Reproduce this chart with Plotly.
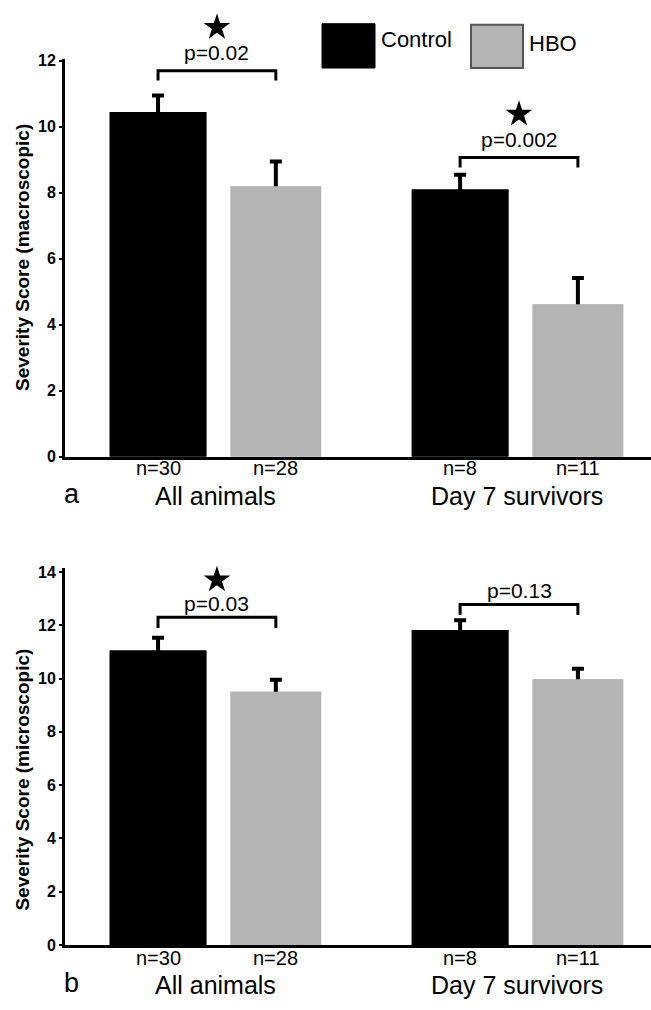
import plotly.graph_objects as go

# ---------------- data ----------------
groups = ["All animals", "Day 7 survivors"]
series_names = ["Control", "HBO"]

macro_control = [10.45, 8.10]
macro_control_err = [0.50, 0.45]
macro_hbo = [8.20, 4.62]
macro_hbo_err = [0.75, 0.80]

micro_control = [11.05, 11.82]
micro_control_err = [0.48, 0.37]
micro_hbo = [9.50, 9.97]
micro_hbo_err = [0.45, 0.40]

n_control = [30, 8]
n_hbo = [28, 11]

macro_p = ["p=0.02", "p=0.002"]
macro_sig = [True, True]
macro_bracket = [11.70, 9.07]

micro_p = ["p=0.03", "p=0.13"]
micro_sig = [True, False]
micro_bracket = [12.30, 12.78]

macro_ticks = [0, 2, 4, 6, 8, 10, 12]
micro_ticks = [0, 2, 4, 6, 8, 10, 12, 14]

panel_letters = ["a", "b"]
ytitles = ["Severity Score (macroscopic)", "Severity Score (microscopic)"]

# ---------------- style ----------------
W, H = 651, 1010
ML = 65
PW = W - ML
FONT = "Liberation Sans, Arial, sans-serif"
BLACK = "#000000"
GRAY = "#b4b4b4"
CTRL_OFF, CTRL_W = -0.35, 0.32
HBO_OFF, HBO_W = 0.05, 0.30
X_RANGE = [-0.498, 1.442]
TOP_RANGE = [0, 12.05]
BOT_RANGE = [0, 14.15]
TOP_PX = (457, 53)          # pixel rows of the plot bottom / top
BOT_PX = (953, 570)
TOP_STAR_PX = (457, 0)      # taller invisible area for the significance stars
BOT_STAR_PX = (953, 520)


def py(p):
    return 1 - p / H


def px(p):
    return (p - ML) / PW


ppu_top = (TOP_PX[0] - TOP_PX[1]) / (TOP_RANGE[1] - TOP_RANGE[0])
ppu_bot = (BOT_PX[0] - BOT_PX[1]) / (BOT_RANGE[1] - BOT_RANGE[0])

fig = go.Figure()

panels = [
    dict(xa="x", ya="y", xs="x3", ys="y3", ctrl=macro_control, ce=macro_control_err,
         hbo=macro_hbo, he=macro_hbo_err, p=macro_p, sig=macro_sig,
         br=macro_bracket, drop=0.30, pshift=18, sshift=44, ppu=ppu_top),
    dict(xa="x2", ya="y2", xs="x4", ys="y4", ctrl=micro_control, ce=micro_control_err,
         hbo=micro_hbo, he=micro_hbo_err, p=micro_p, sig=micro_sig,
         br=micro_bracket, drop=0.40, pshift=14, sshift=38, ppu=ppu_bot),
]

for P in panels:
    err_style = dict(type="data", symmetric=True, color=BLACK, thickness=4, width=6)
    # bars with error bars
    fig.add_trace(go.Bar(x=groups, y=P["ctrl"], name=series_names[0],
                         offset=CTRL_OFF, width=CTRL_W, marker=dict(color=BLACK, line=dict(width=0)),
                         error_y=dict(array=P["ce"], **err_style),
                         xaxis=P["xa"], yaxis=P["ya"], showlegend=False))
    fig.add_trace(go.Bar(x=groups, y=P["hbo"], name=series_names[1],
                         offset=HBO_OFF, width=HBO_W, marker=dict(color=GRAY, line=dict(width=0)),
                         error_y=dict(array=P["he"], **err_style),
                         xaxis=P["xa"], yaxis=P["ya"], showlegend=False))
    # same bars drawn again on top, hiding the lower half of each error bar
    fig.add_trace(go.Bar(x=groups, y=P["ctrl"], name=series_names[0],
                         offset=CTRL_OFF, width=CTRL_W, marker=dict(color=BLACK, line=dict(width=0)),
                         xaxis=P["xa"], yaxis=P["ya"], showlegend=False, hoverinfo="skip"))
    fig.add_trace(go.Bar(x=groups, y=P["hbo"], name=series_names[1],
                         offset=HBO_OFF, width=HBO_W, marker=dict(color=GRAY, line=dict(width=0)),
                         xaxis=P["xa"], yaxis=P["ya"], showlegend=False, hoverinfo="skip"))

shapes = []
annotations = []

for P in panels:
    star_x, star_y = [], []
    for i in range(len(groups)):
        x0 = i + CTRL_OFF + CTRL_W / 2
        x1 = i + HBO_OFF + HBO_W / 2
        yb = P["br"][i]
        shapes.append(dict(type="path", xref=P["xa"], yref=P["ya"],
                           path=f"M {x0},{yb - P['drop']} L {x0},{yb} L {x1},{yb} L {x1},{yb - P['drop']}",
                           line=dict(color=BLACK, width=3)))
        xm = (x0 + x1) / 2
        annotations.append(dict(x=xm, y=yb, xref=P["xa"], yref=P["ya"], text=P["p"][i],
                                showarrow=False, yshift=P["pshift"], yanchor="middle",
                                font=dict(family=FONT, size=21, color=BLACK)))
        if P["sig"][i]:
            star_x.append(xm)
            star_y.append(yb + P["sshift"] / P["ppu"])
    if star_x:
        fig.add_trace(go.Scatter(x=star_x, y=star_y, mode="markers", cliponaxis=False,
                                 marker=dict(symbol="star", size=20, color=BLACK,
                                             line=dict(width=0)),
                                 xaxis=P["xs"], yaxis=P["ys"], showlegend=False,
                                 hoverinfo="skip"))

# x-axis annotation rows (n values, group names, panel letters)
rows = [(468, 497, "x"), (966, 994, "x2")]
for k, (yn, yg, xa) in enumerate(rows):
    for i, g in enumerate(groups):
        annotations.append(dict(x=i + CTRL_OFF + CTRL_W / 2, y=py(yn), xref=xa, yref="paper",
                                text=f"n={n_control[i]}", showarrow=False, yanchor="middle",
                                font=dict(family=FONT, size=20, color=BLACK)))
        annotations.append(dict(x=i + HBO_OFF + HBO_W / 2, y=py(yn), xref=xa, yref="paper",
                                text=f"n={n_hbo[i]}", showarrow=False, yanchor="middle",
                                font=dict(family=FONT, size=20, color=BLACK)))
        annotations.append(dict(x=i, y=py(yg), xref=xa, yref="paper", text=g,
                                showarrow=False, yanchor="middle",
                                font=dict(family=FONT, size=25, color=BLACK)))
    annotations.append(dict(x=px(62), y=py(yg - 2), xref="paper", yref="paper",
                            text=panel_letters[k], showarrow=False, yanchor="middle",
                            font=dict(family=FONT, size=27, color=BLACK)))

# y-axis titles
for k, yc in enumerate([255, 785]):
    annotations.append(dict(x=px(23), y=py(yc), xref="paper", yref="paper",
                            text=ytitles[k], textangle=-90, showarrow=False,
                            xanchor="center", yanchor="middle",
                            font=dict(family=FONT, size=19, color=BLACK, weight="bold")))

# legend
shapes.append(dict(type="rect", xref="paper", yref="paper", x0=px(322), x1=px(375),
                   y0=py(62), y1=py(17), fillcolor=BLACK, line=dict(color=BLACK, width=1)))
shapes.append(dict(type="rect", xref="paper", yref="paper", x0=px(471), x1=px(523),
                   y0=py(62), y1=py(18), fillcolor=GRAY, line=dict(color="#555555", width=2)))
annotations.append(dict(x=px(379), y=py(33), xref="paper", yref="paper", text=series_names[0],
                        showarrow=False, xanchor="left", yanchor="middle",
                        font=dict(family=FONT, size=22, color=BLACK)))
annotations.append(dict(x=px(527), y=py(37), xref="paper", yref="paper", text=series_names[1],
                        showarrow=False, xanchor="left", yanchor="middle",
                        font=dict(family=FONT, size=22, color=BLACK)))

xaxis_common = dict(range=X_RANGE, showline=True, linewidth=3, linecolor=BLACK,
                    ticks="", showticklabels=False, showgrid=False, zeroline=False,
                    fixedrange=True)
hidden_x = dict(range=X_RANGE, type="linear", visible=False, showgrid=False,
                zeroline=False, fixedrange=True, domain=[0, 1])
yaxis_common = dict(showline=True, linewidth=3, linecolor=BLACK, ticks="outside",
                    ticklen=3, tickwidth=2, tickcolor=BLACK, showgrid=False, zeroline=False,
                    tickfont=dict(family=FONT, size=16, color=BLACK, weight="bold"),
                    fixedrange=True)
hidden_y = dict(visible=False, showgrid=False, zeroline=False, fixedrange=True)

fig.update_layout(
    width=W, height=H,
    margin=dict(l=ML, r=0, t=0, b=0),
    paper_bgcolor="white", plot_bgcolor="rgba(0,0,0,0)",
    barmode="overlay",
    showlegend=False,
    xaxis=dict(domain=[0, 1], anchor="y", type="category", **xaxis_common),
    yaxis=dict(domain=[py(TOP_PX[0]), py(TOP_PX[1])], anchor="x", range=TOP_RANGE,
               tickvals=macro_ticks, **yaxis_common),
    xaxis2=dict(domain=[0, 1], anchor="y2", type="category", **xaxis_common),
    yaxis2=dict(domain=[py(BOT_PX[0]), py(BOT_PX[1])], anchor="x2", range=BOT_RANGE,
                tickvals=micro_ticks, **yaxis_common),
    # invisible, taller axes sharing each panel's scale, used for the stars
    xaxis3=dict(anchor="y3", **hidden_x),
    yaxis3=dict(anchor="x3", domain=[py(TOP_STAR_PX[0]), py(TOP_STAR_PX[1])],
                range=[0, (TOP_STAR_PX[0] - TOP_STAR_PX[1]) / ppu_top], **hidden_y),
    xaxis4=dict(anchor="y4", **hidden_x),
    yaxis4=dict(anchor="x4", domain=[py(BOT_STAR_PX[0]), py(BOT_STAR_PX[1])],
                range=[0, (BOT_STAR_PX[0] - BOT_STAR_PX[1]) / ppu_bot], **hidden_y),
    shapes=shapes,
    annotations=annotations,
)

fig.write_html("out.html")
